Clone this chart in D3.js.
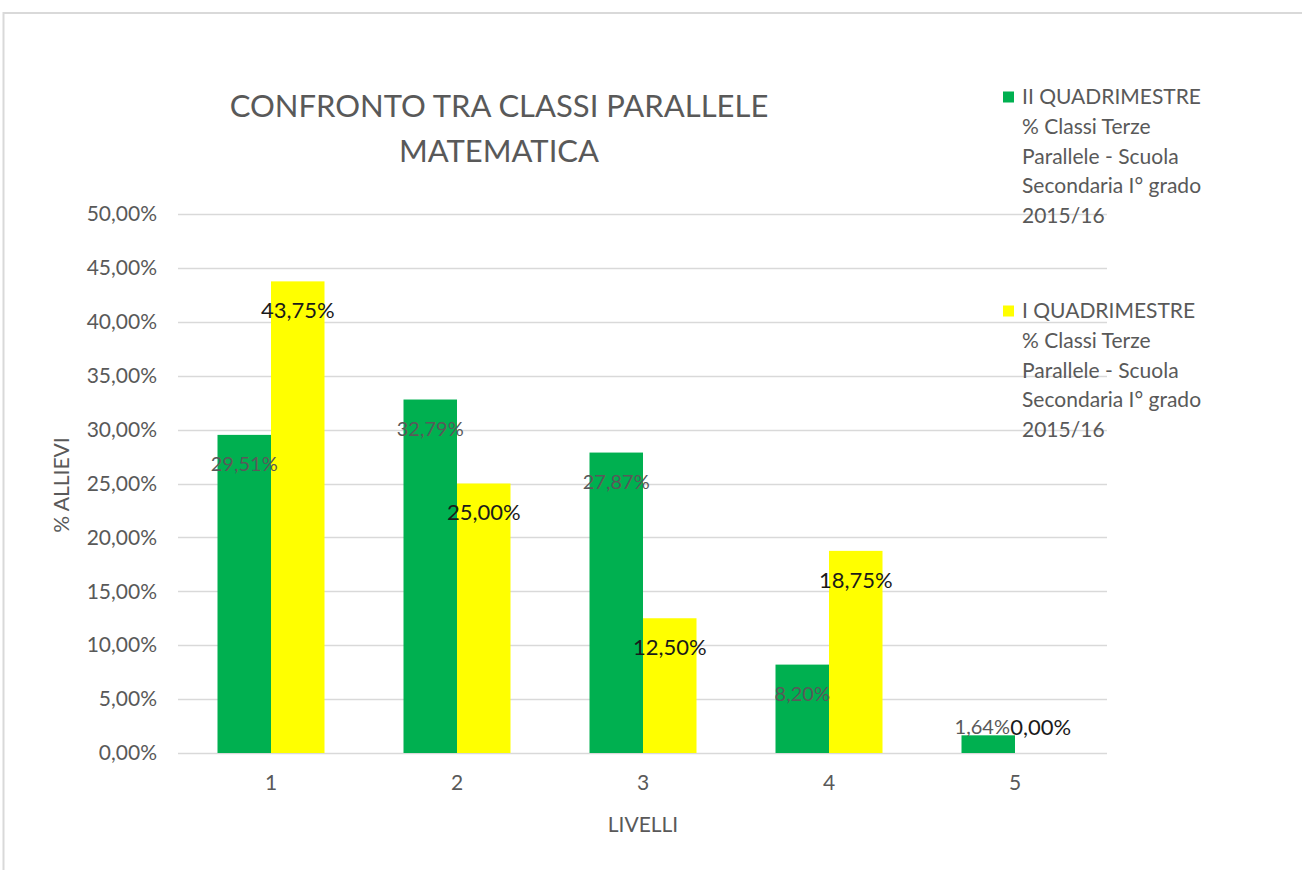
<!DOCTYPE html>
<html><head><meta charset="utf-8">
<script src="https://cdn.jsdelivr.net/npm/d3@7"></script>
<style>body{margin:0;background:#fff}svg{display:block}text{font-family:Lato,"Open Sans",sans-serif}</style>
</head><body>
<svg id="c" width="1302" height="870"></svg>
<script>
const categories = ["1","2","3","4","5"];
const seriesII = [29.51, 32.79, 27.87, 8.20, 1.64];
const seriesI = [43.75, 25.00, 12.50, 18.75, 0.00];
const yTicks = [0,5,10,15,20,25,30,35,40,45,50];
const titleLines = ["CONFRONTO TRA CLASSI PARALLELE","MATEMATICA"];
const legendII = ["II QUADRIMESTRE","% Classi Terze","Parallele - Scuola","Secondaria I° grado","2015/16"];
const legendI = ["I QUADRIMESTRE","% Classi Terze","Parallele - Scuola","Secondaria I° grado","2015/16"];

const loc = d3.formatLocale({decimal:",",thousands:".",grouping:[3],currency:["","€"]});
const fmt = v => loc.format(".2f")(v) + "%";

const svg = d3.select("#c");
svg.append("rect").attr("x",3.5).attr("y",13).attr("width",1400).attr("height",1000)
  .attr("fill","none").attr("stroke","#d9d9d9").attr("stroke-width",2);

const L=178, R=1108, T=214, B=753;
const x = d3.scaleBand().domain(categories).range([L,R]);
const inner = d3.scaleBand().domain(["II","I"]).range([0,107]);
const y = d3.scaleLinear().domain([0,50]).range([B,T]);

// gridlines
svg.append("g").selectAll("line").data(yTicks).join("line")
  .attr("x1",L).attr("x2",R-1).attr("y1",d=>Math.round(y(d))+0.5).attr("y2",d=>Math.round(y(d))+0.5)
  .attr("stroke","#d9d9d9").attr("stroke-width",1.3);

// y axis labels
const yAxis = d3.axisLeft(y).tickValues(yTicks).tickSize(0).tickPadding(0).tickFormat(fmt);
const gy = svg.append("g").attr("transform",`translate(157,0)`).call(yAxis);
gy.select(".domain").remove();
gy.selectAll("text").attr("font-size",21).attr("fill","#595959").attr("font-family","Lato");

// x axis labels
const xAxis = d3.axisBottom(x).tickSize(0).tickPadding(0);
const gx = svg.append("g").attr("transform",`translate(0,${B+22})`).call(xAxis);
gx.select(".domain").remove();
gx.selectAll("text").attr("font-size",21).attr("fill","#595959").attr("font-family","Lato").attr("dy","0.71em");

const off = (x.bandwidth()-107)/2;
const groups = [{k:"II",vals:seriesII,col:"#00B050"},{k:"I",vals:seriesI,col:"#FFFF00"}];
groups.forEach(g=>{
  svg.append("g").selectAll("rect").data(g.vals).join("rect")
    .attr("x",(d,i)=>x(categories[i])+off+inner(g.k))
    .attr("width",inner.bandwidth())
    .attr("y",d=>y(d)).attr("height",d=>B-y(d)).attr("fill",g.col);
});
// labels
groups.forEach(g=>{
  svg.append("g").selectAll("text").data(g.vals).join("text")
    .attr("x",(d,i)=>x(categories[i])+off+inner(g.k)+inner.bandwidth()/2 + (g.k==="I"&&i===4?-1:0) - (g.k==="II"&&i===4?6:0))
    .attr("y",d=>Math.min(y(d)+29, B-26))
    .attr("dy","0.35em").attr("text-anchor","middle")
    .attr("font-size",g.k==="II"?20:22)
    .attr("fill",g.k==="II"?"#595959":"#1a1a1a")
    .text(d=>fmt(d));
});

// title
svg.append("g").selectAll("text").data(titleLines).join("text")
  .attr("x",499).attr("y",(d,i)=>106+i*45).attr("dy","0.35em").attr("text-anchor","middle")
  .attr("font-size",31).attr("fill","#595959").text(d=>d);

// axis titles
svg.append("text").attr("transform","translate(62,485) rotate(-90)").attr("text-anchor","middle")
  .attr("dy","0.35em").attr("font-size",21).attr("fill","#595959").text("% ALLIEVI");
svg.append("text").attr("x",643).attr("y",825).attr("text-anchor","middle").attr("dy","0.35em")
  .attr("font-size",21).attr("fill","#595959").text("LIVELLI");

// legend
[{lines:legendII,col:"#00B050",y0:97},{lines:legendI,col:"#FFFF00",y0:311}].forEach(l=>{
  svg.append("rect").attr("x",1003).attr("y",l.y0-5.5).attr("width",11).attr("height",11).attr("fill",l.col);
  svg.append("g").selectAll("text").data(l.lines).join("text")
    .attr("x",1022).attr("y",(d,i)=>l.y0+i*29.7).attr("dy","0.35em")
    .attr("font-size",21).attr("fill","#595959").text(d=>d);
});
</script></body></html>
